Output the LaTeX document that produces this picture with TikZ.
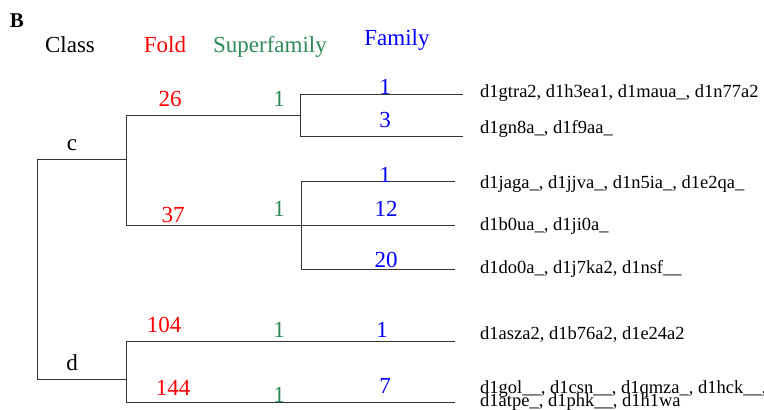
\documentclass[tikz,border=0pt]{standalone}
\usepackage{fontspec}
\setmainfont{Liberation Serif}

\definecolor{foldred}{RGB}{255,0,0}
\definecolor{sfgreen}{RGB}{46,139,87}
\definecolor{famblue}{RGB}{0,0,255}

\tikzset{
  branch/.style={draw=black!80, line width=0.9pt},
  lvl/.style={anchor=base, inner sep=0pt, font=\fontsize{23}{26}\selectfont},
  leaf/.style={anchor=base west, inner sep=0pt, font=\fontsize{18.5}{20}\selectfont},
}

\begin{document}
\begin{tikzpicture}[x=1pt,y=-1pt]

      \useasboundingbox (0,0) rectangle (764,410);

      % headings
      \node[lvl, font=\bfseries\fontsize{21}{24}\selectfont] (panel) at (17,27) {B};
      \begin{scope}[every node/.style={lvl}]
        \node (hclass) at (70,52)   {Class};
        \node[foldred] (hfold) at (165,52)  {Fold};
        \node[sfgreen] (hsf)   at (270,52)  {Superfamily};
        \node[famblue] (hfam)  at (397,45)  {Family};
      \end{scope}

      % junctions of the tree
      \coordinate (ct)  at (37,159);
      \coordinate (cb)  at (37,379);
      \coordinate (fc)  at (126,159);
      \coordinate (fct) at (126,115);
      \coordinate (fcb) at (126,225);
      \coordinate (fd)  at (126,379);
      \coordinate (fdt) at (126,341);
      \coordinate (fdb) at (126,402);
      \coordinate (s1)  at (300,115);
      \coordinate (s1t) at (300,94);
      \coordinate (s1b) at (300,136);
      \coordinate (s2)  at (301,225);
      \coordinate (s2t) at (301,181);
      \coordinate (s2b) at (301,269);

      % leaves
      \begin{scope}[every node/.style={leaf}]
        \node (l1)  at (480,97)  {d1gtra2, d1h3ea1, d1maua\_, d1n77a2};
        \node (l2)  at (480,133) {d1gn8a\_, d1f9aa\_};
        \node (l3)  at (480,188) {d1jaga\_, d1jjva\_, d1n5ia\_, d1e2qa\_};
        \node (l4)  at (480,230) {d1b0ua\_, d1ji0a\_};
        \node (l5)  at (480,273) {d1do0a\_, d1j7ka2, d1nsf\_\_};
        \node (l6)  at (480,339) {d1asza2, d1b76a2, d1e24a2};
        \node (l7)  at (480,393) {d1gol\_\_, d1csn\_\_, d1qmza\_, d1hck\_\_,};
        \node (l7b) at (480,406) {d1atpe\_, d1phk\_\_, d1h1wa};
      \end{scope}
      \coordinate (e1) at (463,94);
      \coordinate (e2) at (463,136);
      \coordinate (e3) at (455,181);
      \coordinate (e4) at (455,225);
      \coordinate (e5) at (455,269);
      \coordinate (e6) at (455,341);
      \coordinate (e7) at (455,402);

      % branches
      \begin{scope}[every path/.style={branch}]
        \path (ct)  -- (cb);
        \path (ct)  -- (fc);
        \path (cb)  -- (fd);
        \path (fct) -- (fcb);
        \path (fdt) -- (fdb);
        \path (fct) -- (s1);
        \path (fcb) -- (s2);
        \path (s1t) -- (s1b);
        \path (s2t) -- (s2b);
        \path (s1t) -- (e1);
        \path (s1b) -- (e2);
        \path (s2t) -- (e3);
        \path (s2)  -- (e4);
        \path (s2b) -- (e5);
        \path (fdt) -- (e6);
        \path (fdb) -- (e7);
      \end{scope}

      % counts on the branches
      \begin{scope}[every node/.style={lvl}]
        \node (nc) at (72,150)  {c};
        \node (nd) at (72,370)  {d};
        \node[foldred] (f26)  at (170,106) {26};
        \node[foldred] (f37)  at (173,222) {37};
        \node[foldred] (f104) at (164,332) {104};
        \node[foldred] (f144) at (173,395) {144};
        \node[sfgreen] (s1a) at (279,106) {1};
        \node[sfgreen] (s1c) at (279,216) {1};
        \node[sfgreen] (s1d) at (279,337) {1};
        \node[sfgreen] (s1e) at (279,402) {1};
        \node[famblue] (m1)  at (385,94)  {1};
        \node[famblue] (m3)  at (385,127) {3};
        \node[famblue] (m1b) at (385,182) {1};
        \node[famblue] (m12) at (386,216) {12};
        \node[famblue] (m20) at (386,267) {20};
        \node[famblue] (m1c) at (382,337) {1};
        \node[famblue] (m7)  at (385,393) {7};
      \end{scope}

    \end{tikzpicture}
\end{document}
